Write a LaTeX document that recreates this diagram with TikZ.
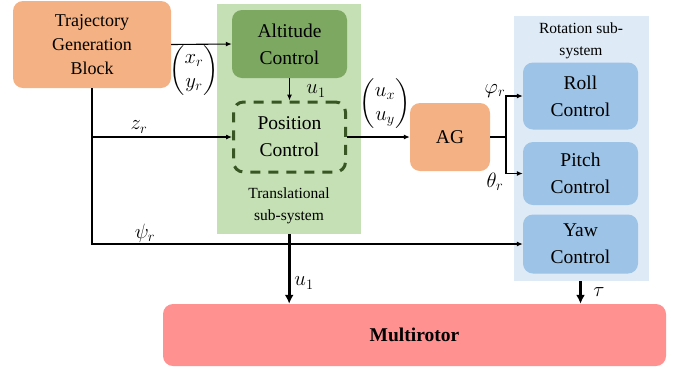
\documentclass[tikz,border=0pt]{standalone}
\usepackage{amsmath}
\usepackage{fontspec}
\setmainfont{Liberation Serif}
\usetikzlibrary{arrows.meta,positioning,calc}
\definecolor{orangebox}{HTML}{F4B183}
\definecolor{greenbg}{HTML}{C5E0B4}
\definecolor{greenbox}{HTML}{7DA862}
\definecolor{greendash}{HTML}{375623}
\definecolor{bluebg}{HTML}{DEEBF7}
\definecolor{bluebox}{HTML}{9DC3E6}
\definecolor{redbox}{HTML}{FF9191}
\tikzset{
  blk/.style={rectangle, rounded corners=10pt, align=center, inner sep=0pt,
    font=\rmfamily\fontsize{19.5}{27}\selectfont},
  conn/.style={line width=1.1pt, -{Latex[length=6pt,width=5pt]}},
  plain/.style={line width=1.1pt},
  thick arr/.style={line width=3pt, -{Latex[length=9pt,width=9pt]}},
  lab/.style={inner sep=0pt, font=\fontsize{22}{24}\selectfont},
  small/.style={align=center, inner sep=0pt, font=\rmfamily\fontsize{15.5}{22}\selectfont}
}
\begin{document}
\begin{tikzpicture}[x=1pt,y=-1pt]
\useasboundingbox (0,0) rectangle (683,368);
% backgrounds
\node[fill=greenbg, rectangle, inner sep=0pt, minimum width=144pt, minimum height=230pt, anchor=north west] (trans) at (217,4) {};
\node[fill=bluebg, rectangle, inner sep=0pt, minimum width=135pt, minimum height=265pt, anchor=north west] (rot) at (514,16) {};
\node[small] (translab) at (289,206) {Translational\\sub-system};
\node[small] (rotlab) at (581,41) {Rotation sub-\\system};
% blocks
\node[blk, fill=orangebox, minimum width=158pt, minimum height=87pt, font=\rmfamily\fontsize{18}{24}\selectfont] (traj) at (92,44.5) {Trajectory\\Generation\\Block};
\node[blk, fill=greenbox, minimum width=115pt, minimum height=68pt] (alt) at (289.5,44) {Altitude\\Control};
\node[blk, draw=greendash, line width=3pt, dash pattern=on 10pt off 8pt, minimum width=112pt, minimum height=70pt] (pos) at (289.5,137) {Position\\Control};
\node[blk, fill=orangebox, minimum width=80pt, minimum height=68pt] (ag) at (450,137) {AG};
\node[blk, fill=bluebox, minimum width=115pt, minimum height=67pt] (roll) at (580.5,96) {Roll\\Control};
\node[blk, fill=bluebox, minimum width=115pt, minimum height=63pt] (pitch) at (580.5,173.5) {Pitch\\Control};
\node[blk, fill=bluebox, minimum width=115pt, minimum height=59pt] (yaw) at (580.5,244) {Yaw\\Control};
\node[blk, fill=redbox, minimum width=503pt, minimum height=62pt, font=\rmfamily\fontsize{19.5}{24}\selectfont\bfseries] (multi) at (414.5,335) {Multirotor};
% connectors
\draw[conn] (traj.east) -- (alt.west);
\draw[conn] (alt.south) -- (pos.north);
\draw[conn] (traj.south) |- (yaw.west);
\draw[conn] (traj.south |- pos.west) -- (pos.west);
\draw[conn] (pos.east) -- (ag.west);
\coordinate (split) at (506,137);
\draw[plain] (ag.east) -- (split);
\draw[conn] (split) |- (roll.west);
\draw[conn] (split) |- (pitch.west);
\draw[thick arr] (trans.south) -- (trans.south |- multi.north);
\draw[thick arr] (rot.south -| yaw.south) -- (yaw.south |- multi.north);
% labels
\node[lab] (lxy) at (194,71) {$\begin{pmatrix}x_r\\ y_r\end{pmatrix}$};
\node[lab] (lu1a) at (316,91) {$u_1$};
\node[lab] (lzr) at (139,127) {$z_r$};
\node[lab] (luxy) at (385,104) {$\begin{pmatrix}u_x\\ u_y\end{pmatrix}$};
\node[lab] (lphi) at (495,91) {$\varphi_r$};
\node[lab] (ltheta) at (495,182) {$\theta_r$};
\node[lab] (lpsi) at (145,233) {$\psi_r$};
\node[lab] (lu1b) at (304,283) {$u_1$};
\node[lab] (ltau) at (599,292) {$\tau$};
\end{tikzpicture}
\end{document}
